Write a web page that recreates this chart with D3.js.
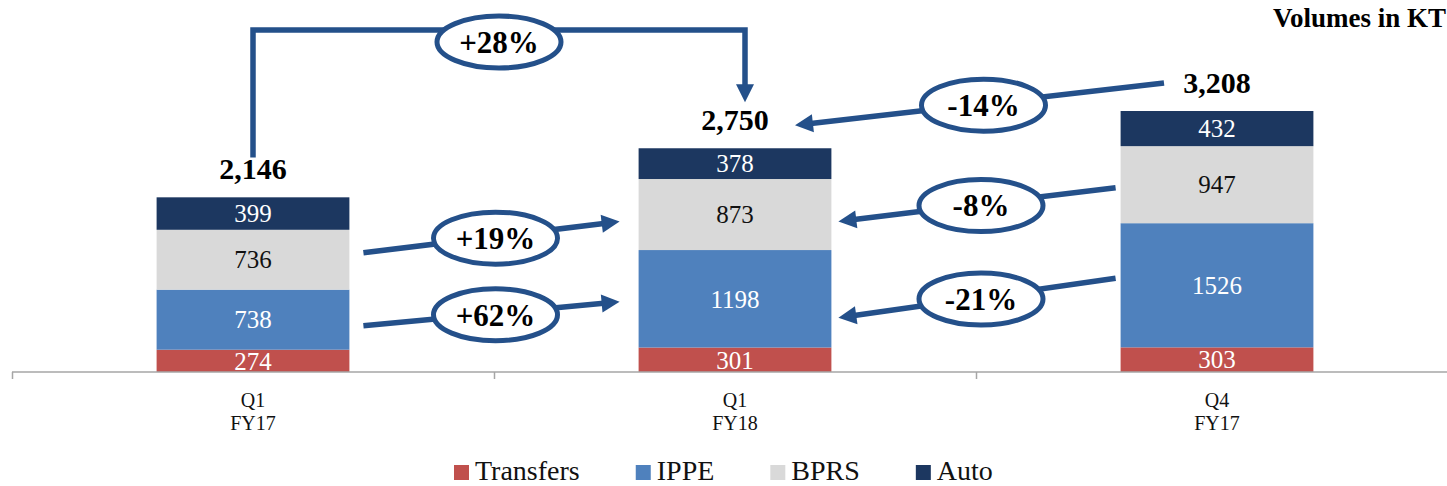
<!DOCTYPE html>
<html>
<head>
<meta charset="utf-8">
<script src="https://cdn.jsdelivr.net/npm/d3@7"></script>
<style>
  html, body { margin: 0; padding: 0; background: #fff; }
  svg { display: block; font-family: "Liberation Serif", "DejaVu Serif", serif; }
</style>
</head>
<body>
<div id="chart"></div>
<script>
(function () {
  "use strict";

  // data
  const categories = ["Q1 FY17", "Q1 FY18", "Q4 FY17"];
  const tickLabels = [["Q1", "FY17"], ["Q1", "FY18"], ["Q4", "FY17"]];
  const seriesNames = ["Transfers", "IPPE", "BPRS", "Auto"];
  const transfers = [274, 301, 303];
  const ippe = [738, 1198, 1526];
  const bprs = [736, 873, 947];
  const auto = [399, 378, 432];
  const totals = [2146, 2750, 3208];

  const changes = [
    { label: "+28%", from: 0, to: 1, series: null },
    { label: "+19%", from: 0, to: 1, series: "BPRS" },
    { label: "+62%", from: 0, to: 1, series: "IPPE" },
    { label: "-14%", from: 2, to: 1, series: null },
    { label: "-8%", from: 2, to: 1, series: "BPRS" },
    { label: "-21%", from: 2, to: 1, series: "IPPE" }
  ];
  // small pixel nudges so the arrows sit like the original ones
  const nudges = [
    { dy1: 0, dy2: 0 },
    { dy1: -7, dy2: 7 },
    { dy1: 6, dy2: 3 },
    { dy1: -1, dy2: 4 },
    { dy1: 3, dy2: 7 },
    { dy1: -7, dy2: 19 }
  ];

  const colors = new Map([
    ["Transfers", "#c0504d"],
    ["IPPE", "#4f81bd"],
    ["BPRS", "#d9d9d9"],
    ["Auto", "#1c3760"]
  ]);
  const labelColors = new Map([
    ["Transfers", "#fff"], ["IPPE", "#fff"], ["BPRS", "#111"], ["Auto", "#fff"]
  ]);
  const arrowColor = "#24508a";

  const width = 1447, height = 486;
  const baseY = 372;

  const valuesBySeries = { Transfers: transfers, IPPE: ippe, BPRS: bprs, Auto: auto };
  const table = categories.map((c, i) => {
    const row = { category: c };
    seriesNames.forEach((s) => { row[s] = valuesBySeries[s][i]; });
    return row;
  });

  const stack = d3.stack().keys(seriesNames)(table);

  const x = d3.scaleBand().domain(categories).range([12, 1458]).padding(0);
  const barW = x.bandwidth() * 0.4;
  const cx = (i) => x(categories[i]) + x.bandwidth() / 2;
  const y = d3.scaleLinear().domain([0, d3.max(totals)]).range([baseY, 111]);

  const svg = d3.select("#chart").append("svg")
    .attr("width", width).attr("height", height)
    .attr("viewBox", [0, 0, width, height]);

  // title
  svg.append("text")
    .attr("x", 1446).attr("y", 27)
    .attr("text-anchor", "end")
    .attr("font-size", 27).attr("font-weight", "bold")
    .text("Volumes in KT");

  // bars
  const layers = svg.append("g").selectAll("g")
    .data(stack).join("g")
    .attr("fill", (d) => colors.get(d.key));

  layers.selectAll("rect")
    .data((d) => d.map((p) => ({ key: d.key, p })))
    .join("rect")
    .attr("x", (d) => x(d.p.data.category) + (x.bandwidth() - barW) / 2)
    .attr("y", (d) => y(d.p[1]))
    .attr("width", barW)
    .attr("height", (d) => y(d.p[0]) - y(d.p[1]));

  layers.selectAll("text")
    .data((d) => d.map((p) => ({ key: d.key, p })))
    .join("text")
    .attr("x", (d) => x(d.p.data.category) + x.bandwidth() / 2)
    .attr("y", (d) => (y(d.p[0]) + y(d.p[1])) / 2)
    .attr("dy", "0.35em")
    .attr("text-anchor", "middle")
    .attr("font-size", 25)
    .attr("fill", (d) => labelColors.get(d.key))
    .text((d) => d.p.data[d.key]);

  // totals
  svg.append("g").selectAll("text")
    .data(totals).join("text")
    .attr("x", (d, i) => cx(i))
    .attr("y", (d) => y(d) - 18)
    .attr("text-anchor", "middle")
    .attr("font-size", 30).attr("font-weight", "bold")
    .text((d) => d3.format(",")(d));

  // axis
  const axis = svg.append("g").attr("transform", `translate(0,${baseY})`);
  axis.append("line")
    .attr("x1", 12).attr("x2", width)
    .attr("stroke", "#a6a6a6").attr("stroke-width", 1.5);
  axis.selectAll("line.tick")
    .data(categories).join("line")
    .attr("class", "tick")
    .attr("x1", (d) => Math.round(x(d)) + 0.5).attr("x2", (d) => Math.round(x(d)) + 0.5)
    .attr("y1", 0).attr("y2", 7)
    .attr("stroke", "#a6a6a6").attr("stroke-width", 1.5);

  const tickText = axis.selectAll("text")
    .data(tickLabels).join("text")
    .attr("text-anchor", "middle")
    .attr("font-size", 20)
    .attr("fill", "#111");
  tickText.selectAll("tspan")
    .data((d, i) => d.map((t, j) => ({ t, j, i })))
    .join("tspan")
    .attr("x", (d) => cx(d.i))
    .attr("y", (d) => 35 + d.j * 23)
    .text((d) => d.t);

  // change annotations
  const ann = svg.append("g");

  const segMid = (series, i) => {
    const layer = stack.find((s) => s.key === series);
    return (y(layer[i][0]) + y(layer[i][1])) / 2;
  };

  const arrowHead = (g, x1, y1, x2, y2) => {
    const a = Math.atan2(y2 - y1, x2 - x1);
    const len = 18, half = 9;
    const bx = x2 - len * Math.cos(a), by = y2 - len * Math.sin(a);
    const px = -Math.sin(a) * half, py = Math.cos(a) * half;
    g.append("path")
      .attr("d", `M${x2},${y2}L${bx + px},${by + py}L${bx - px},${by - py}Z`)
      .attr("fill", arrowColor);
    return [x2 - (len - 2) * Math.cos(a), y2 - (len - 2) * Math.sin(a)];
  };

  const bubble = (g, ex, ey, label) => {
    g.append("ellipse")
      .attr("cx", ex).attr("cy", ey)
      .attr("rx", 62).attr("ry", 26)
      .attr("fill", "#fff")
      .attr("stroke", arrowColor).attr("stroke-width", 5);
    g.append("text")
      .attr("x", ex).attr("y", ey)
      .attr("dy", "0.35em")
      .attr("text-anchor", "middle")
      .attr("font-size", 31).attr("font-weight", "bold")
      .text(label);
  };

  changes.forEach((c, k) => {
    const g = ann.append("g");
    const n = nudges[k];
    const dir = c.to > c.from ? 1 : -1;
    let x1, y1, x2, y2;

    if (c.series === null && dir > 0) {
      // elbow connector over the top
      const topY = 30;
      const lx = cx(c.from);
      const rx = cx(c.to) + 10;
      const startY = y(totals[c.from]) - 40;
      const tipY = y(totals[c.to]) - 46;
      const end = arrowHead(g, rx, topY, rx, tipY);
      g.insert("path", "path")
        .attr("d", `M${lx},${startY}V${topY}H${rx}V${end[1]}`)
        .attr("fill", "none")
        .attr("stroke", arrowColor).attr("stroke-width", 5.5);
      bubble(g, (lx + rx) / 2, topY + 12, c.label);
      return;
    }

    if (c.series === null) {
      x1 = cx(c.from) - 53;
      x2 = cx(c.to) + 60;
      y1 = y(totals[c.from]) - 27 + n.dy1;
      y2 = y(totals[c.to]) - 27 + n.dy2;
    } else if (dir > 0) {
      x1 = cx(c.from) + barW / 2 + 14;
      x2 = cx(c.to) - barW / 2 - 19;
      y1 = segMid(c.series, c.from) + n.dy1;
      y2 = segMid(c.series, c.to) + n.dy2;
    } else {
      x1 = cx(c.from) - barW / 2 - 5;
      x2 = cx(c.to) + barW / 2 + 7;
      y1 = segMid(c.series, c.from) + n.dy1;
      y2 = segMid(c.series, c.to) + n.dy2;
    }

    const end = arrowHead(g, x1, y1, x2, y2);
    g.insert("line", "path")
      .attr("x1", x1).attr("y1", y1)
      .attr("x2", end[0]).attr("y2", end[1])
      .attr("stroke", arrowColor).attr("stroke-width", 5.5);
    bubble(g, (x1 + x2) / 2 + 4, (y1 + y2) / 2 + 1, c.label);
  });

  // legend
  const legend = svg.append("g").attr("transform", "translate(454,465)");
  let lx = 0;
  seriesNames.forEach((s) => {
    const item = legend.append("g").attr("transform", `translate(${lx},0)`);
    item.append("rect")
      .attr("width", 15).attr("height", 15)
      .attr("fill", colors.get(s));
    const t = item.append("text")
      .attr("x", 21).attr("y", 15)
      .attr("font-size", 28)
      .attr("fill", "#111")
      .text(s);
    lx += 21 + t.node().getComputedTextLength() + 56;
  });
})();
</script>
</body>
</html>
